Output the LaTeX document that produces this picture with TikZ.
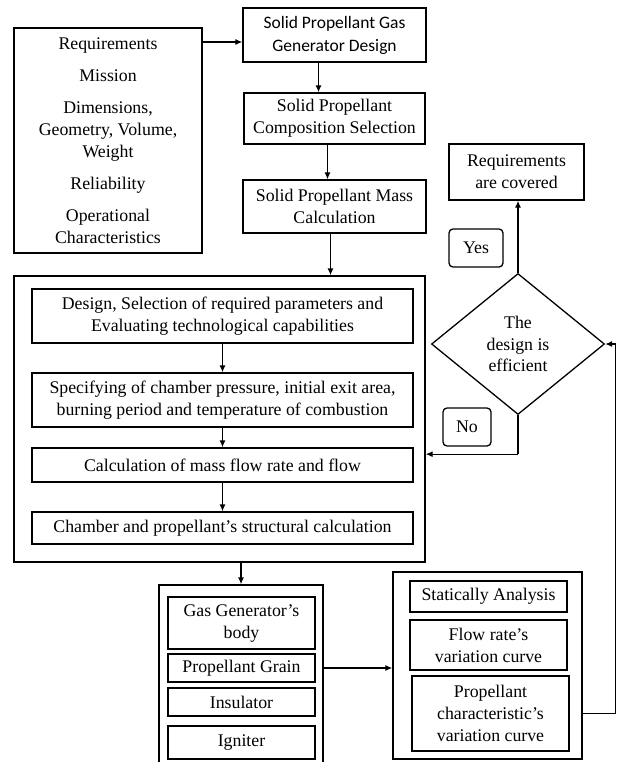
\documentclass[tikz,border=0pt]{standalone}
\usepackage{fontspec}
\setmainfont{Liberation Serif}
\newfontfamily\sansf{Carlito}
\usetikzlibrary{arrows.meta,shapes.geometric}
\begin{document}
\begin{tikzpicture}[x=1pt,y=-1pt,
  box/.style={draw,line width=1.3pt,align=center,inner sep=0pt,font=\fontsize{17.8}{22}\selectfont},
  lbl/.style={box,rounded corners=4pt},
  arr/.style={line width=1.3pt,-{Latex[length=7pt,width=6pt]}},
  ln/.style={line width=1.3pt}]
\useasboundingbox (0,0) rectangle (619,762);
% left requirements
\node[box,minimum width=188,minimum height=225] (req) at (108,140.5)
  {Requirements\\[10pt]Mission\\[10pt]Dimensions,\\Geometry, Volume,\\Weight\\[10pt]Reliability\\[10pt]Operational\\Characteristics};
% top column
\node[box,font=\sansf\fontsize{17.5}{23}\selectfont,minimum width=183,minimum height=54] (top) at (334.5,35) {Solid Propellant Gas\\Generator Design};
\node[box,minimum width=181,minimum height=51] (comp) at (334.5,118.5) {Solid Propellant\\Composition Selection};
\node[box,minimum width=183,minimum height=53] (mass) at (334.5,206.5) {Solid Propellant Mass\\Calculation};
% big box
\node[box,minimum width=411,minimum height=286] (big) at (219.5,419) {};
\node[box,minimum width=381,minimum height=54] (i1) at (222.5,316) {Design, Selection of required parameters and\\Evaluating technological capabilities};
\node[box,minimum width=381,minimum height=54] (i2) at (222.5,400) {Specifying of chamber pressure, initial exit area,\\burning period and temperature of combustion};
\node[box,minimum width=381,minimum height=34] (i3) at (222.5,465) {Calculation of mass flow rate and flow};
\node[box,minimum width=381,minimum height=32] (i4) at (222.5,528) {Chamber and propellant’s structural calculation};
% lower left
\node[box,minimum width=164,minimum height=190] (ll) at (241,680) {};
\node[box,minimum width=147,minimum height=52] (g1) at (241.5,623) {Gas Generator’s\\body};
\node[box,minimum width=147,minimum height=28] (g2) at (241.5,668) {Propellant Grain};
\node[box,minimum width=147,minimum height=28] (g3) at (241.5,702) {Insulator};
\node[box,minimum width=147,minimum height=33] (g4) at (241.5,742.5) {Igniter};
% lower right
\node[box,minimum width=189,minimum height=187] (lr) at (487.5,665.5) {};
\node[box,minimum width=157,minimum height=31] (s1) at (488.5,596.5) {Statically Analysis};
\node[box,minimum width=157,minimum height=50] (s2) at (488.5,645) {Flow rate’s\\variation curve};
\node[box,minimum width=157,minimum height=75] (s3) at (490.5,713.5) {Propellant\\characteristic’s\\variation curve};
% decision
\node[box,shape=diamond,minimum width=173,minimum height=141,font=\fontsize{17.8}{21.5}\selectfont] (dia) at (518,344) {The\\design is\\efficient};
\node[box,minimum width=135,minimum height=56] (rc) at (516.5,172) {Requirements\\are covered};
\node[lbl,minimum width=54,minimum height=38] (yes) at (476,248) {Yes};
\node[lbl,minimum width=48,minimum height=38] (no) at (467,427) {No};
% connectors
\coordinate (a1) at ([yshift=-7pt]top.west);
\draw[arr] (req.east |- a1) -- (a1);
\coordinate (a2) at ([xshift=-16pt]top.south);
\draw[arr] (a2) -- (a2 |- comp.north);
\coordinate (a3) at ([xshift=-7pt]comp.south);
\draw[arr] (a3) -- (a3 |- mass.north);
\coordinate (a4) at ([xshift=-4pt]mass.south);
\draw[arr] (a4) -- (a4 |- big.north);
\draw[arr] (i1.south) -- (i2.north);
\draw[arr] (i2.south) -- (i3.north);
\draw[arr] (i3.south) -- (i4.north);
\draw[arr] (big.south -| ll.north) -- (ll.north);
\draw[arr] (ll.east |- g2) -- (lr.west |- g2);
\draw[arr] (lr.east |- s3) -- ++(33,0) |- (dia.east);
\draw[arr] (dia.north) -- (dia.north |- rc.south);
\draw[ln] (dia.south) -- ++(0,39) coordinate (nc);
\draw[arr] (nc) -- (nc -| big.east);
\end{tikzpicture}
\end{document}
